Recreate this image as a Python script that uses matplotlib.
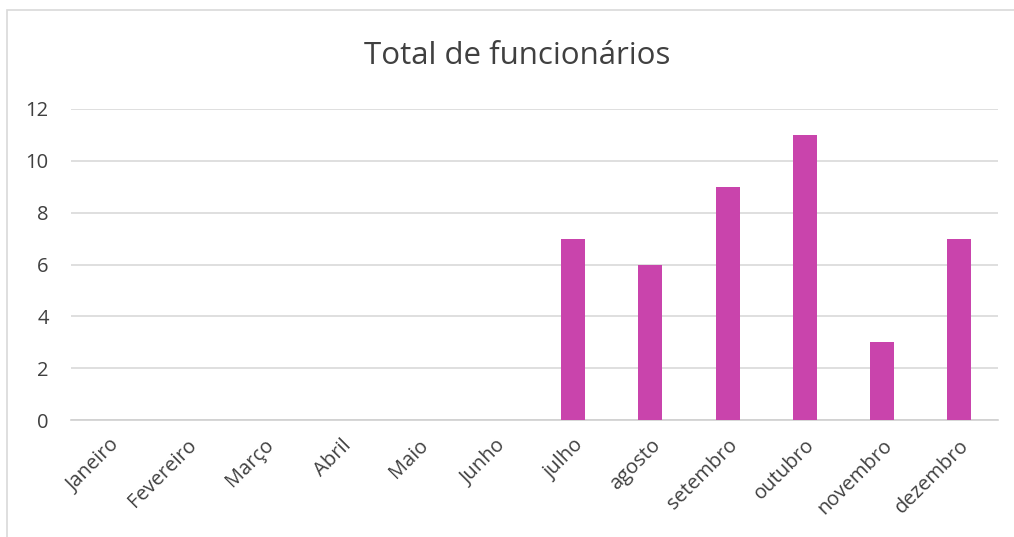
import matplotlib
matplotlib.use("Agg")
import matplotlib.pyplot as plt
from matplotlib.patches import Rectangle

categories = ["Janeiro", "Fevereiro", "Março", "Abril", "Maio", "Junho",
              "julho", "agosto", "setembro", "outubro", "novembro", "dezembro"]
values = [0, 0, 0, 0, 0, 0, 7, 6, 9, 11, 3, 7]
yticks = [0, 2, 4, 6, 8, 10, 12]
title = "Total de funcionários"

plt.rcParams['font.family'] = ['Open Sans', 'DejaVu Sans']
W, H = 1014, 537
fig = plt.figure(figsize=(W / 100, H / 100), dpi=100)
fig.patch.set_facecolor('white')

# chart border (only left/top visible)
fig.patches.append(Rectangle((7 / W, -0.1), 1.2, 1 - 10 / H + 0.1,
                             transform=fig.transFigure, fill=False,
                             edgecolor='#D9D9D9', linewidth=1.2))

ax = fig.add_axes([71 / W, 1 - 420 / H, (998 - 71) / W, (420 - 109) / H])
x = list(range(len(categories)))
ax.bar(x, values, width=0.31, color='#C944AC', zorder=3)
ax.set_xlim(-0.5, len(categories) - 0.5)
ax.set_ylim(0, 12)
ax.set_yticks(yticks)
ax.set_yticklabels([str(v) for v in yticks])
ax.set_xticks(x)
ax.set_xticklabels(categories, rotation=45, ha='right', rotation_mode='anchor')
ax.grid(axis='y', color='#D9D9D9', linewidth=1.2, zorder=0)
for s in ['top', 'right', 'left']:
    ax.spines[s].set_visible(False)
ax.spines['bottom'].set_color('#D0D0D0')
ax.spines['bottom'].set_linewidth(1.2)
ax.tick_params(axis='both', length=0, labelsize=14.5, colors='#404040')
ax.tick_params(axis='y', pad=16)
ax.tick_params(axis='x', pad=11)

fig.text(517 / W, 1 - 56 / H, title, ha='center', va='center',
         fontsize=22.5, color='#404040')

fig.savefig('out.png', dpi=100, facecolor='white')
